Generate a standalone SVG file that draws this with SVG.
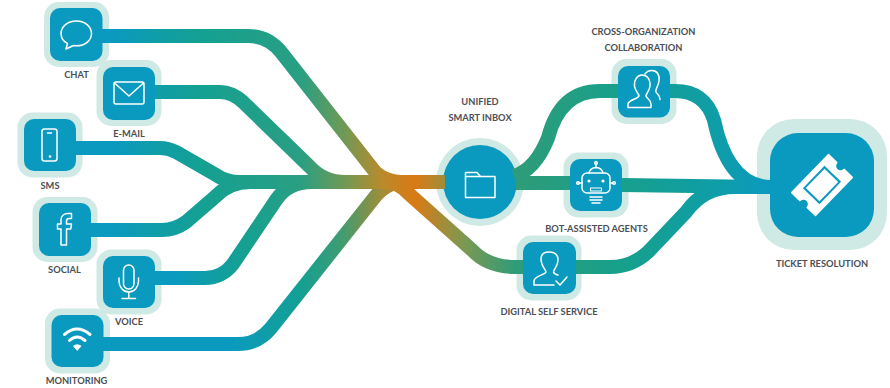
<svg xmlns="http://www.w3.org/2000/svg" width="890" height="388" viewBox="0 0 890 388">
<style>
.halo{fill:#cfe9e4}
.box{fill:#0a9abf}
.ic{fill:none;stroke:#fff;stroke-width:1.5;stroke-linecap:round;stroke-linejoin:round}
.lb{font-family:"Lato","Open Sans",sans-serif;font-weight:700;font-size:9.300px;fill:#4b5056;text-anchor:middle}
.ln{fill:none;stroke-width:14}
</style>
<defs>
<linearGradient id="g" gradientUnits="userSpaceOnUse" x1="100" y1="0" x2="770" y2="0">
<stop offset="0.02" stop-color="#0a9abf"/>
<stop offset="0.15" stop-color="#14a092"/>
<stop offset="0.3" stop-color="#2a9f82"/>
<stop offset="0.36" stop-color="#6a9a58"/>
<stop offset="0.42" stop-color="#b98a2c"/>
<stop offset="0.47" stop-color="#d97a14"/>
<stop offset="0.54" stop-color="#7f9850"/>
<stop offset="0.62" stop-color="#2f9c78"/>
<stop offset="0.78" stop-color="#16a08c"/>
<stop offset="0.92" stop-color="#0f9da8"/>
<stop offset="1" stop-color="#0a9abf"/>
</linearGradient>
<linearGradient id="gv" gradientUnits="userSpaceOnUse" x1="100" y1="0" x2="770" y2="0">
<stop offset="0.11" stop-color="#0a9abf"/>
<stop offset="0.21" stop-color="#14a092"/>
<stop offset="0.3" stop-color="#2a9f82"/>
<stop offset="0.36" stop-color="#6a9a58"/>
<stop offset="0.42" stop-color="#b98a2c"/>
<stop offset="0.47" stop-color="#d97a14"/>
</linearGradient>
<linearGradient id="gm" gradientUnits="userSpaceOnUse" x1="100" y1="0" x2="770" y2="0">
<stop offset="0.194" stop-color="#0a9abf"/>
<stop offset="0.3" stop-color="#14a092"/>
<stop offset="0.36" stop-color="#3f9c72"/>
<stop offset="0.425" stop-color="#a68c34"/>
<stop offset="0.47" stop-color="#d97a14"/>
</linearGradient>
</defs>
<g id="chat">
<rect class="halo" x="44" y="2" width="65" height="65" rx="15"/><rect class="box" x="50" y="8" width="52.500" height="53" rx="10"/>
<path class="ic" d="M76.500 21C67 21 61 27 61 33.500C61 38 63.500 41.500 67.500 43.500L66 49L73.500 45.500Q75 45.800 76.500 45.800C85.500 45.800 91.500 40 91.500 33.500C91.500 27 85.500 21 76.500 21Z"/>
<text class="lb" x="76.500" y="78">CHAT</text>
</g>
<g id="e-mail">
<rect class="halo" x="96.500" y="60" width="65" height="66" rx="15"/><rect class="box" x="103" y="67" width="52" height="53" rx="10"/>
<rect class="ic" x="114" y="82" width="30" height="22" rx="2"/><path class="ic" d="M114.500 83L129 96L143.500 83"/>
<text class="lb" x="129" y="137">E-MAIL</text>
</g>
<g id="sms">
<rect class="halo" x="17.500" y="112.500" width="65" height="65" rx="15"/><rect class="box" x="24" y="119" width="52" height="52" rx="10"/>
<rect class="ic" x="42" y="129" width="15" height="32" rx="2.500"/><path class="ic" d="M47.500 133H51.500"/><circle cx="50" cy="156.500" r="1.300" fill="#fff"/>
<text class="lb" x="50" y="189">SMS</text>
</g>
<g id="social">
<rect class="halo" x="32.500" y="197" width="65" height="65" rx="15"/><rect class="box" x="39" y="203" width="52" height="53" rx="10"/>
<path class="ic" d="M61 245V229H57.500V224H61V220C61 216 64 213.500 68 213.500H71.500V218.500H69C67.200 218.500 66.500 219.300 66.500 221V224H71.500L70.800 229H66.500V245Z"/>
<text class="lb" x="64.500" y="273">SOCIAL</text>
</g>
<g id="voice">
<rect class="halo" x="96.500" y="249.500" width="65" height="65" rx="15"/><rect class="box" x="103" y="256" width="52" height="52" rx="10"/>
<rect class="ic" x="123.500" y="265" width="10.500" height="24" rx="5.200"/><path class="ic" d="M119 278V281C119 287 123 292 128.800 292C134.500 292 138.500 287 138.500 281V278M128.800 292V298M122 298.500H135.500"/>
<text class="lb" x="129" y="325">VOICE</text>
</g>
<g id="monitoring">
<rect class="halo" x="45" y="308.500" width="65" height="65" rx="15"/><rect class="box" x="51.500" y="315" width="52" height="52" rx="10"/>
<g class="ic" style="stroke-width:3"><path d="M64.500 334.500Q77 323.500 90 334.500"/><path d="M69.500 340.500Q77 333.500 85 340.500"/></g>
<path d="M73 346Q77 342.500 81.500 346L77.200 351Z" fill="#fff"/>
<text class="lb" x="76.500" y="384">MONITORING</text>
</g>
<g id="unified-smart-inbox">
<circle class="halo" cx="480" cy="182" r="44"/><circle class="box" cx="480" cy="182" r="37"/>
<path class="ic" d="M465.500 197.500V172.500H477L480.500 176.500H495V197.500ZM465.500 176.500H480.500"/>
<text class="lb" x="480" y="105">UNIFIED</text><text class="lb" x="480" y="121">SMART INBOX</text>
</g>
<g id="cross-organization-collaboration">
<rect class="halo" x="611.500" y="59" width="65" height="65" rx="15"/><rect class="box" x="618" y="66" width="52" height="51.500" rx="10"/>
<path class="ic" d="M628 107.500V104C628 100 638 99 639 96C639 94 635 91 634.500 86C634 79 638 75 642 75C647 75 650.500 79 650 86C649.500 91 646 94 646 96C647 99 651 100 651 104V107.500Z"/>
<path class="ic" d="M645 74C647 71 650 70.500 652 70.500C657 70.500 660 75 659 81C658.500 86 655 89 656 92C657 94 660 95 660 99.500"/>
<text class="lb" x="643.500" y="35">CROSS-ORGANIZATION</text><text class="lb" x="643.500" y="51">COLLABORATION</text>
</g>
<g id="bot-assisted-agents">
<rect class="halo" x="563.500" y="152.500" width="65" height="65" rx="15"/><rect class="box" x="570" y="159" width="52" height="52" rx="10"/>
<rect class="ic" x="582" y="173" width="28" height="20" rx="5"/>
<path class="ic" d="M589 173Q590 168 596 167.500Q602 168 603 173M596 167.500V164M582 183H579M610 183H613M590 197H602M590 200H602M592 203H600"/>
<circle class="ic" cx="596" cy="163" r="1.300"/><circle class="ic" cx="578" cy="183" r="1.300"/><circle class="ic" cx="614" cy="183" r="1.300"/>
<circle cx="589" cy="181" r="1.600" fill="#fff"/><circle cx="603" cy="181" r="1.600" fill="#fff"/>
<rect class="ic" x="590.500" y="188" width="11" height="3" style="stroke-width:1.100"/>
<text class="lb" x="596.500" y="232">BOT-ASSISTED AGENTS</text>
</g>
<g id="digital-self-service">
<rect class="halo" x="516.500" y="235.500" width="65" height="65" rx="15"/><rect class="box" x="523" y="242" width="53" height="52" rx="10"/>
<path class="ic" d="M554 285H534V281C534 276 545 275 546 272C546 270 541 266 541 259C541 253 545 252 549 252C554 252 558 254 558 260C558 266 554 269 553.500 272Q554 274 558 275"/>
<path class="ic" d="M556 281L560 285L567 277"/>
<text class="lb" x="549" y="315">DIGITAL SELF SERVICE</text>
</g>
<g id="ticket-resolution">
<rect class="halo" x="757" y="119" width="130" height="131" rx="37"/><rect class="box" x="770" y="133" width="104" height="104" rx="28"/>
<g transform="translate(822 185) rotate(-46)">
<path fill="#fff" d="M-26.500 -16.500H26.500V-5A5 5 0 0 0 26.500 5V16.500H-26.500V5A5 5 0 0 0 -26.500 -5Z" stroke="#fff" stroke-width="1.500" stroke-linejoin="round"/>
<rect x="-14.500" y="-10.500" width="29" height="21" fill="#fff" stroke="#0a9abf" stroke-width="2"/>
</g>
<text class="lb" x="822" y="267">TICKET RESOLUTION</text>
</g>
<g id="connectors">
<path class="ln" stroke="url(#gv)" d="M155 278H205Q222 278 233 264L276 200Q288 182 312 182H345"/>
<path class="ln" stroke="url(#gm)" d="M103 344H238Q258 344 271 328L374 198Q386 182 405 182H425"/>
<path class="ln" stroke="url(#g)" d="M102 36H248Q268 36 281 52L372 168Q382 182 405 182H445"/>
<path class="ln" stroke="url(#g)" d="M155 92H220Q232 92 243 102L310 167Q324 182 345 182H420"/>
<path class="ln" stroke="url(#g)" d="M76 148H160Q168 148 176 152L216 175Q226 182 240 182H345"/>
<path class="ln" stroke="url(#g)" d="M91 230H162Q175 230 186 222L216 196Q230 182 250 182H345"/>
<path class="ln" stroke="url(#g)" d="M385 182Q398 182 408 193L472 250Q488 267 515 267H523"/>
<path class="ln" stroke="url(#g)" d="M576 267H610Q632 267 648 252L686 212Q704 187 735 187H771"/>
<path class="ln" stroke="url(#g)" d="M514 176Q535 170 548 138Q560 91 600 91H618"/>
<path class="ln" stroke="url(#g)" d="M670 91H675Q705 91 714 120Q728 187 771 187"/>
<path class="ln" stroke="url(#g)" d="M516 183H570"/>
<path class="ln" stroke="url(#g)" d="M622 185L771 187"/>
</g>
</svg>
